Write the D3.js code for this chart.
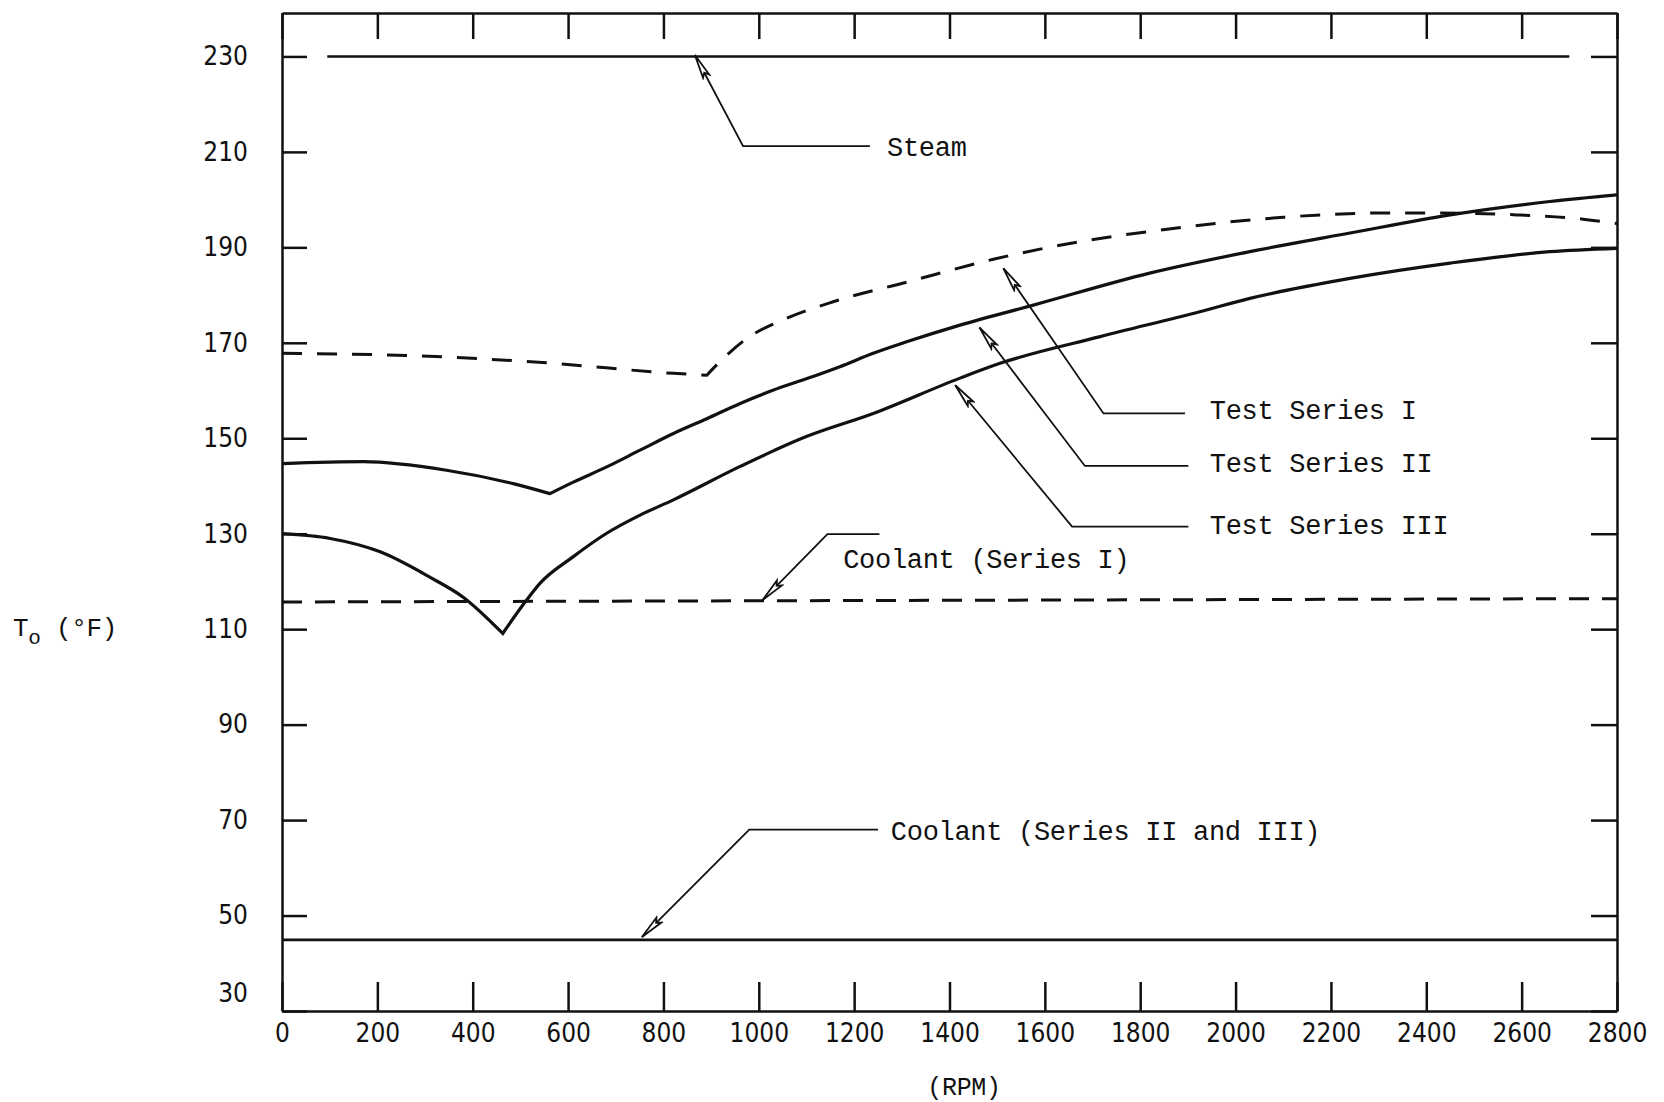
<!DOCTYPE html>
<html>
<head>
<meta charset="utf-8">
<script src="https://cdn.jsdelivr.net/npm/d3@7"></script>
<style>
  html, body { margin: 0; padding: 0; background: #fff; }
  svg { display: block; }
  .tick-label { font-family: 'Liberation Sans Narrow', 'DejaVu Sans Condensed', 'DejaVu Sans', sans-serif; font-size: 26px; fill: #111; }
  .note { font-family: 'Liberation Mono', 'DejaVu Sans Mono', monospace; font-size: 27px; letter-spacing: -0.3px; fill: #111; }
</style>
</head>
<body>
<svg id="chart"></svg>
<script>
// axis ticks
const rpmTicks = [0, 200, 400, 600, 800, 1000, 1200, 1400, 1600, 1800, 2000, 2200, 2400, 2600, 2800];
const tempTicks = [30, 50, 70, 90, 110, 130, 150, 170, 190, 210, 230];

// series: [rpm, T (°F)]
const testSeries1 = [
  [0, 167.8], [275, 167.3], [555, 165.8], [821, 163.6], [891, 163.2], [922, 166.4],
  [975, 170.9], [1058, 175.1], [1156, 178.6], [1310, 182.7], [1492, 187.5], [1646, 190.7],
  [1856, 193.8], [2100, 196.3], [2310, 197.2], [2415, 197.2], [2590, 196.8], [2729, 195.9], [2800, 195.0]
];
const testSeries2 = [
  [0, 144.7], [171, 145.1], [345, 143.3], [485, 140.5], [562, 138.4], [611, 140.8],
  [681, 144.0], [751, 147.5], [821, 151.0], [891, 154.1], [961, 157.3], [1031, 160.1],
  [1101, 162.5], [1170, 165.0], [1240, 167.8], [1310, 170.2], [1422, 173.7], [1576, 177.9],
  [1820, 184.6], [2030, 189.1], [2240, 193.0], [2450, 196.8], [2659, 199.6], [2800, 201.0]
];
const testSeries3 = [
  [0, 130.0], [101, 129.0], [206, 126.2], [310, 120.9], [380, 116.7], [463, 109.1],
  [513, 116.1], [541, 119.6], [611, 125.2], [681, 130.1], [751, 133.9], [821, 137.1],
  [961, 144.1], [1101, 150.4], [1240, 155.2], [1422, 162.6], [1506, 165.7], [1716, 171.3],
  [1925, 176.5], [2030, 179.3], [2240, 183.5], [2450, 186.7], [2659, 189.1], [2800, 189.8]
];
const coolantSeries1 = [[0, 115.7], [2800, 116.4]];
const coolantSeries23 = [[0, 44.9], [2800, 44.9]];
const steam = [[95, 230], [2700, 230]];

// callouts: leader polyline (tip first) and label anchor, in data units
const callouts = [
  { text: 'Steam', leader: [[866, 230.3], [967, 211.2], [1233, 211.2]], at: [1269, 211.2] },
  { text: 'Test Series I', leader: [[1513, 185.6], [1723, 155.2], [1894, 155.2]], at: [1946, 156.0] },
  { text: 'Test Series II', leader: [[1463, 173.2], [1684, 144.2], [1901, 144.2]], at: [1946, 145.0] },
  { text: 'Test Series III', leader: [[1412, 161.1], [1657, 131.5], [1901, 131.5]], at: [1946, 132.0] },
  { text: 'Coolant (Series I)', leader: [[1008, 116.1], [1144, 129.9], [1253, 129.9]], at: [1177, 124.8] },
  { text: 'Coolant (Series II and III)', leader: [[755, 45.5], [980, 68.0], [1250, 68.0]], at: [1277, 67.8] }
];

class TemperatureChart {
  constructor() {
    this.width = 1664;
    this.height = 1102;
    this.svg = d3.select('#chart')
      .attr('width', this.width)
      .attr('height', this.height)
      .attr('viewBox', `0 0 ${this.width} ${this.height}`);
    this.setupScales();
    this.drawAxes();
    this.drawSeries();
    this.drawCallouts();
    this.drawTitles();
  }

  setupScales() {
    this.x = d3.scaleLinear().domain([0, 2800]).range([282, 1617]);
    this.y = d3.scaleLinear().domain([30, 239.1]).range([1011, 13]);
    this.line = d3.line()
      .x(d => this.x(d[0]))
      .y(d => this.y(d[1]));
    this.smooth = d3.line()
      .x(d => this.x(d[0]))
      .y(d => this.y(d[1]))
      .curve(d3.curveMonotoneX);
  }

  // curves are smooth on both sides of the sharp minimum
  kinked(points) {
    const i = d3.minIndex(points, d => d[1]);
    return this.smooth(points.slice(0, i + 1)) + this.smooth(points.slice(i)).replace(/^M/, 'L');
  }

  drawAxes() {
    const [left, right] = this.x.range();
    const [bottom, top] = this.y.range();

    const styleAxis = g => {
      g.attr('font-family', null).attr('font-size', null);
      g.selectAll('path.domain').attr('stroke', '#111').attr('stroke-width', 2.5);
      g.selectAll('.tick line').attr('stroke', '#111').attr('stroke-width', 2.5);
      g.selectAll('.tick text').attr('class', 'tick-label').attr('fill', '#111');
    };

    this.svg.append('g')
      .attr('transform', `translate(0,${bottom})`)
      .call(d3.axisBottom(this.x).tickValues(rpmTicks).tickFormat(d3.format('d'))
        .tickSizeInner(-29).tickSizeOuter(0).tickPadding(13))
      .call(styleAxis);

    this.svg.append('g')
      .attr('transform', `translate(0,${top})`)
      .call(d3.axisTop(this.x).tickValues(rpmTicks).tickSizeInner(-26).tickSizeOuter(0).tickFormat(''))
      .call(styleAxis);

    this.svg.append('g')
      .attr('transform', `translate(${left},0)`)
      .call(d3.axisLeft(this.y).tickValues(tempTicks).tickFormat(d3.format('d'))
        .tickSizeInner(-25).tickSizeOuter(0).tickPadding(34))
      .call(styleAxis)
      .selectAll('.tick text')
      .attr('dy', d => d === 30 ? '-0.35em' : '0.32em');

    this.svg.append('g')
      .attr('transform', `translate(${right},0)`)
      .call(d3.axisRight(this.y).tickValues(tempTicks).tickSizeInner(-26).tickSizeOuter(0).tickFormat(''))
      .call(styleAxis);
  }

  drawSeries() {
    const g = this.svg.append('g').attr('fill', 'none').attr('stroke', '#111');

    g.append('path').attr('d', this.line(steam)).attr('stroke-width', 2.6);
    g.append('path').attr('d', this.kinked(testSeries1))
      .attr('stroke-width', 3).attr('stroke-dasharray', '20 15');
    g.append('path').attr('d', this.kinked(testSeries2)).attr('stroke-width', 3.2);
    g.append('path').attr('d', this.kinked(testSeries3)).attr('stroke-width', 3.2);
    g.append('path').attr('d', this.line(coolantSeries1))
      .attr('stroke-width', 3).attr('stroke-dasharray', '20 13');
    g.append('path').attr('d', this.line(coolantSeries23)).attr('stroke-width', 2.6);
  }

  drawCallouts() {
    this.svg.append('defs').append('marker')
      .attr('id', 'tip')
      .attr('viewBox', '-26 -6 28 12')
      .attr('refX', 0)
      .attr('refY', 0)
      .attr('markerUnits', 'userSpaceOnUse')
      .attr('markerWidth', 28)
      .attr('markerHeight', 12)
      .attr('orient', 'auto-start-reverse')
      .append('path')
      .attr('d', 'M0,0 L-24,-3.5 L-20,0 L-24,3.5 Z')
      .attr('fill', '#fff')
      .attr('stroke', '#111')
      .attr('stroke-width', 1.8);

    const g = this.svg.append('g');

    g.selectAll('path.leader')
      .data(callouts)
      .enter()
      .append('path')
      .attr('class', 'leader')
      .attr('d', d => this.line(d.leader))
      .attr('fill', 'none')
      .attr('stroke', '#111')
      .attr('stroke-width', 1.8)
      .attr('marker-start', 'url(#tip)');

    g.selectAll('text.note')
      .data(callouts)
      .enter()
      .append('text')
      .attr('class', 'note')
      .attr('x', d => this.x(d.at[0]))
      .attr('y', d => this.y(d.at[1]))
      .attr('dy', '0.35em')
      .text(d => d.text);
  }

  drawTitles() {
    const yTitle = this.svg.append('text')
      .attr('class', 'note')
      .attr('x', 13)
      .attr('y', 627)
      .attr('dy', '0.35em')
      .style('font-size', '26px');
    yTitle.append('tspan').text('T');
    yTitle.append('tspan').attr('dy', 8).style('font-size', '21px').text('o');
    yTitle.append('tspan').attr('dy', -8).text(' (°F)');

    this.svg.append('text')
      .attr('class', 'note')
      .attr('x', 964)
      .attr('y', 1086)
      .attr('dy', '0.35em')
      .attr('text-anchor', 'middle')
      .style('font-size', '25px')
      .text('(RPM)');
  }
}

document.addEventListener('DOMContentLoaded', () => {
  new TemperatureChart();
});
</script>
</body>
</html>
